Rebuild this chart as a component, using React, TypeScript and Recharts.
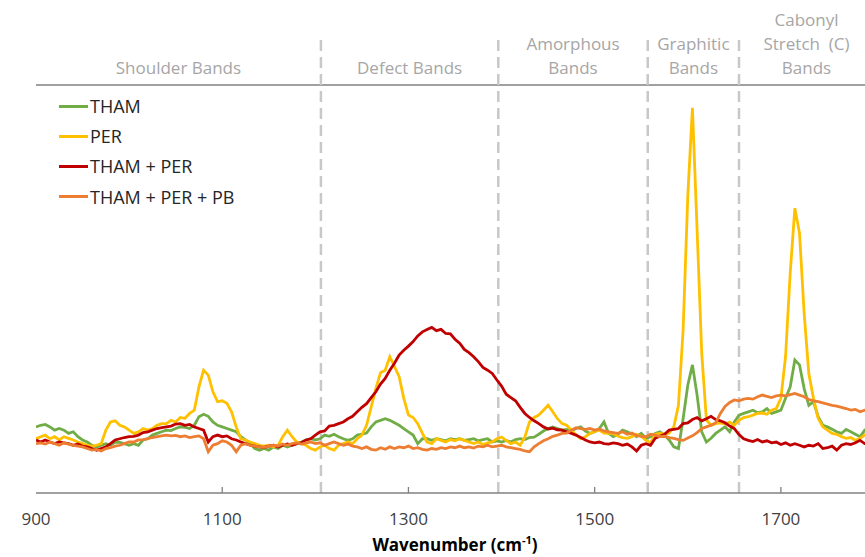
import React from 'react';
import { LineChart, Line, XAxis, YAxis, ReferenceLine, ReferenceArea, Legend } from 'recharts';

const FONT = '"Open Sans", "Noto Sans", sans-serif';

// Wavenumber grid (cm-1): 900 .. 1800 every 5
const WAVENUMBER_START = 900;
const WAVENUMBER_STEP = 5;

const THAM = [
  16.2, 16.6, 16.8, 16.2, 15.4, 15.8, 15.4, 14.6, 15.0, 13.8,
  13.0, 12.5, 11.7, 11.3, 11.7, 12.1, 11.7, 12.5, 12.4, 12.1,
  11.7, 12.1, 11.7, 13.0, 13.3, 14.2, 14.6, 15.0, 15.4, 15.3,
  15.8, 16.2, 16.1, 15.8, 16.6, 18.7, 19.3, 18.8, 17.4, 16.6,
  16.2, 15.8, 15.4, 15.0, 13.8, 13.0, 12.1, 10.9, 10.5, 10.9,
  10.5, 11.3, 10.9, 11.7, 11.3, 11.7, 12.1, 12.5, 13.0, 13.3,
  13.0, 13.3, 14.2, 13.9, 14.4, 13.8, 13.3, 12.9, 13.3, 14.2,
  14.4, 14.7, 16.2, 17.4, 17.8, 18.2, 17.8, 17.2, 16.6, 15.8,
  15.0, 14.2, 12.1, 13.3, 13.3, 12.9, 13.3, 13.1, 12.8, 13.3,
  13.1, 13.3, 12.9, 13.1, 13.3, 12.8, 13.1, 13.3, 12.5, 12.8,
  12.5, 12.9, 12.5, 13.1, 13.3, 13.1, 13.6, 13.7, 14.4, 15.2,
  15.8, 16.2, 15.8, 15.4, 15.6, 15.2, 15.8, 16.2, 15.2, 14.6,
  15.0, 15.8, 17.4, 14.6, 13.8, 14.4, 15.4, 15.0, 14.4, 13.8,
  14.6, 13.4, 13.8, 14.6, 15.0, 14.2, 13.0, 11.3, 10.9, 18.2,
  26.4, 31.4, 24.0, 15.0, 12.5, 13.4, 14.6, 15.4, 16.2, 15.0,
  17.4, 19.1, 19.5, 19.9, 20.3, 19.7, 19.9, 20.7, 19.5, 19.9,
  20.3, 23.2, 26.0, 32.6, 31.4, 25.6, 21.5, 22.4, 18.7, 16.6,
  16.2, 15.6, 15.0, 14.6, 15.6, 15.0, 14.4, 13.8, 15.4, 15.0,
  14.8,
];

const PER = [
  13.3, 13.8, 14.2, 13.3, 13.8, 13.0, 13.8, 13.4, 13.0, 12.5,
  12.1, 11.7, 11.5, 11.7, 12.1, 15.4, 17.4, 17.7, 16.6, 16.2,
  15.4, 14.6, 15.0, 15.8, 15.4, 15.8, 16.6, 17.0, 17.0, 17.8,
  17.4, 18.5, 18.3, 19.5, 20.3, 26.0, 30.1, 28.9, 24.8, 22.4,
  22.6, 22.0, 19.9, 16.2, 13.3, 13.0, 12.5, 12.1, 11.7, 11.5,
  11.7, 11.3, 11.7, 13.8, 15.4, 13.8, 12.5, 12.1, 11.7, 10.9,
  10.5, 11.3, 11.7, 10.9, 10.5, 11.7, 12.1, 12.5, 12.1, 13.3,
  14.2, 16.6, 21.1, 25.6, 29.5, 30.1, 33.4, 31.0, 28.5, 23.2,
  19.1, 18.5, 17.0, 14.6, 12.5, 12.1, 13.3, 12.9, 12.5, 13.1,
  12.8, 13.3, 12.9, 12.5, 12.1, 12.5, 11.9, 12.3, 12.5, 13.3,
  13.7, 12.9, 12.1, 12.5, 11.7, 13.7, 17.4, 18.5, 19.1, 20.3,
  21.5, 19.9, 18.2, 17.0, 16.6, 15.4, 14.2, 13.3, 13.8, 14.6,
  15.0, 15.4, 14.7, 14.6, 14.6, 13.9, 13.6, 13.4, 13.8, 14.4,
  13.9, 12.9, 12.3, 14.4, 14.6, 14.4, 14.7, 16.2, 21.5, 40.0,
  72.7, 94.4, 64.5, 34.2, 17.9, 16.6, 17.0, 17.2, 16.9, 17.4,
  16.6, 17.8, 18.5, 18.7, 19.1, 19.5, 19.6, 19.3, 20.3, 20.7,
  23.2, 33.4, 53.9, 69.8, 63.7, 44.0, 29.3, 23.2, 18.3, 16.2,
  15.4, 14.6, 14.4, 13.8, 13.4, 13.6, 12.9, 13.4, 14.2, 14.0,
  13.8,
];

const THAM_PER = [
  13.0, 12.5, 13.0, 12.5, 12.1, 12.5, 12.3, 12.1, 11.7, 12.0,
  11.5, 11.3, 10.9, 10.5, 10.9, 11.3, 12.1, 13.0, 13.3, 13.6,
  13.8, 13.9, 14.2, 14.8, 15.0, 15.4, 15.8, 16.0, 16.2, 16.4,
  16.9, 17.0, 16.6, 16.8, 16.2, 15.8, 15.4, 12.5, 13.8, 14.2,
  13.8, 14.0, 13.3, 13.0, 12.5, 12.1, 11.7, 11.5, 11.3, 11.2,
  11.5, 11.7, 11.3, 11.7, 12.0, 11.7, 12.1, 12.3, 13.0, 13.3,
  14.2, 15.0, 15.2, 16.4, 16.6, 17.0, 17.4, 18.2, 18.8, 19.9,
  21.0, 21.9, 23.4, 24.8, 26.7, 28.1, 30.1, 31.8, 33.8, 35.0,
  36.0, 37.1, 38.5, 39.5, 40.1, 40.6, 39.8, 40.1, 39.1, 39.0,
  37.7, 36.7, 35.2, 34.4, 33.4, 32.2, 30.8, 30.1, 29.3, 27.7,
  26.2, 24.2, 23.4, 22.6, 21.0, 19.5, 18.5, 17.7, 17.0, 16.2,
  15.7, 15.9, 15.5, 15.4, 15.0, 14.6, 14.2, 13.6, 13.0, 12.5,
  12.3, 12.5, 12.1, 12.0, 12.3, 12.1, 11.7, 12.0, 11.3, 10.3,
  11.7, 12.1, 11.7, 13.4, 13.9, 14.4, 15.4, 15.6, 15.8, 17.0,
  17.2, 18.0, 18.5, 17.7, 18.2, 18.8, 18.0, 17.7, 17.2, 16.4,
  15.8, 14.3, 13.3, 12.9, 12.6, 13.1, 12.5, 12.8, 12.3, 12.5,
  11.9, 12.3, 11.7, 12.1, 11.7, 11.3, 11.7, 11.5, 12.1, 10.9,
  11.1, 11.5, 10.5, 11.7, 12.1, 11.9, 12.3, 12.9, 12.1, 12.3,
  12.3,
];

const THAM_PER_PB = [
  12.1, 12.3, 12.0, 12.5, 12.1, 11.7, 12.3, 12.0, 11.7, 11.5,
  11.3, 10.9, 10.5, 10.7, 10.3, 10.9, 11.1, 11.5, 11.7, 12.1,
  12.5, 12.5, 13.0, 13.1, 13.3, 13.6, 13.8, 14.0, 14.2, 14.0,
  14.1, 13.8, 14.0, 13.6, 13.8, 14.0, 13.3, 10.1, 11.7, 12.1,
  12.8, 12.5, 11.7, 10.1, 11.7, 12.1, 11.7, 11.5, 11.3, 11.2,
  11.5, 11.7, 11.5, 12.0, 11.7, 12.1, 12.3, 12.0, 12.3, 12.5,
  12.1, 12.3, 11.7, 12.1, 12.5, 12.1, 11.7, 12.0, 11.5, 11.3,
  10.9, 11.3, 10.7, 10.5, 11.1, 10.7, 11.3, 10.9, 11.3, 11.1,
  11.5, 10.9, 11.1, 10.7, 10.5, 10.9, 10.7, 11.1, 10.9, 11.3,
  11.1, 11.5, 11.1, 11.3, 11.0, 11.5, 11.3, 11.7, 11.3, 11.5,
  11.7, 11.3, 11.1, 10.9, 10.7, 10.3, 10.1, 11.3, 12.1, 12.8,
  13.3, 13.9, 14.2, 14.6, 14.7, 15.4, 16.0, 15.8, 15.6, 15.8,
  15.4, 15.7, 15.2, 15.0, 14.8, 14.6, 15.0, 14.4, 14.7, 14.1,
  13.9, 13.8, 14.4, 14.2, 13.8, 13.9, 13.6, 13.4, 13.1, 12.9,
  13.5, 14.0, 14.8, 15.8, 16.2, 16.6, 17.2, 19.5, 21.2, 22.2,
  22.8, 22.6, 23.0, 23.2, 23.0, 23.6, 24.0, 23.7, 23.4, 23.8,
  24.0, 23.8, 24.1, 24.4, 24.0, 23.6, 22.9, 22.6, 22.4, 22.1,
  21.8, 21.5, 21.3, 21.0, 20.7, 20.3, 20.5, 19.9, 20.3, 20.1,
  20.0,
];

const X_TICKS = [900, 1100, 1300, 1500, 1700];
const BAND_BOUNDARIES = [1206, 1396.5, 1557, 1655];
const BAND_LABELS = [
  { from: 900, to: 1206, lines: ['Shoulder Bands'] },
  { from: 1206, to: 1396.5, lines: ['Defect Bands'] },
  { from: 1396.5, to: 1557, lines: ['Amorphous', 'Bands'] },
  { from: 1557, to: 1655, lines: ['Graphitic', 'Bands'] },
  { from: 1655, to: 1800, lines: ['Cabonyl', 'Stretch  (C)', 'Bands'] },
];

const SERIES = [
  { key: 'tham', name: 'THAM', color: '#70ad47' },
  { key: 'per', name: 'PER', color: '#ffc000' },
  { key: 'thamPer', name: 'THAM + PER', color: '#c00000' },
  { key: 'thamPerPb', name: 'THAM + PER + PB', color: '#ed7d31' },
];

const ROWS = THAM.map((v, i) => ({
  wavenumber: WAVENUMBER_START + i * WAVENUMBER_STEP,
  tham: v,
  per: PER[i],
  thamPer: THAM_PER[i],
  thamPerPb: THAM_PER_PB[i],
}));

const AXIS_COLOR = '#808080';

const renderXTick = (props: any) => {
  const { x, y, payload } = props;
  return (
    <g>
      {payload.value !== 900 && (
        <line x1={x} x2={x} y1={y} y2={y - 6} stroke={AXIS_COLOR} strokeWidth={1.3} />
      )}
      <text x={x} y={y + 32} textAnchor="middle" fontSize={17} fill="#404040" fontFamily={FONT}>
        {payload.value}
      </text>
    </g>
  );
};

const renderXTitle = (props: any) => {
  const vb = props.viewBox || { x: 36, y: 493, width: 838, height: 64 };
  const cx = vb.x + vb.width / 2;
  return (
    <text x={cx} y={vb.y + 58} textAnchor="middle" fontSize={17} fontWeight="bold" fill="#000" fontFamily={FONT}>
      <tspan>Wavenumber (cm</tspan>
      <tspan fontSize={11} dy={-7}>-1</tspan>
      <tspan dy={7}>)</tspan>
    </text>
  );
};

const renderYTitle = (props: any) => {
  const vb = props.viewBox || { x: 36, y: 85, width: 0, height: 408 };
  const cy = vb.y + vb.height / 2;
  return (
    <text
      transform={`translate(26, ${cy}) rotate(-90)`}
      x={0}
      y={0}
      textAnchor="middle"
      fontSize={17}
      fontWeight="bold"
      fill="#000"
      fontFamily={FONT}
    >
      Intensity (a.u.)
    </text>
  );
};

const makeBandLabel = (lines: string[]) => (props: any) => {
  const vb = props.viewBox;
  if (!vb) return null;
  const cx = vb.x + vb.width / 2;
  const n = lines.length;
  return (
    <text textAnchor="middle" fontSize={17} fill="#a6a6a6" fontFamily={FONT} style={{ whiteSpace: 'pre' }}>
      {lines.map((l, i) => (
        <tspan key={i} x={cx} y={74 - (n - 1 - i) * 24}>
          {l}
        </tspan>
      ))}
    </text>
  );
};

const renderLegend = () => (
  <div style={{ fontFamily: FONT, fontSize: 18, color: '#262626' }}>
    {SERIES.map((s) => (
      <div key={s.key} style={{ display: 'flex', alignItems: 'center', height: 30.2, whiteSpace: 'nowrap' }}>
        <span style={{ display: 'inline-block', width: 29, height: 3, background: s.color, marginRight: 2 }} />
        <span>{s.name}</span>
      </div>
    ))}
  </div>
);

export default function App() {
  return (
    <div
      style={{
        position: 'absolute',
        left: 0,
        top: 0,
        width: 865,
        height: 557,
        overflow: 'hidden',
        background: '#ffffff',
      }}
    >
      <LineChart width={874} height={557} data={ROWS} margin={{ top: 85, right: 0, bottom: 0, left: 36 }}>
        <XAxis
          dataKey="wavenumber"
          type="number"
          domain={[900, 1800]}
          ticks={X_TICKS}
          interval={0}
          height={64}
          tickSize={0}
          tickMargin={0}
          tickLine={false}
          axisLine={{ stroke: AXIS_COLOR, strokeWidth: 1.5 }}
          tick={renderXTick}
          allowDataOverflow
          label={renderXTitle}
        />
        <YAxis
          type="number"
          domain={[0, 100]}
          width={0}
          tick={false}
          tickLine={false}
          axisLine={{ stroke: AXIS_COLOR, strokeWidth: 1.5 }}
          allowDataOverflow
          label={renderYTitle}
        />
        <ReferenceLine y={100} stroke={AXIS_COLOR} strokeWidth={1.5} ifOverflow="visible" />
        {BAND_BOUNDARIES.map((b) => (
          <ReferenceLine
            key={b}
            segment={[
              { x: b, y: 0 },
              { x: b, y: 112 },
            ]}
            stroke="#c8c8c8"
            strokeWidth={2.5}
            strokeDasharray="11 6"
            ifOverflow="visible"
          />
        ))}
        {BAND_LABELS.map((band) => (
          <ReferenceArea
            key={band.from}
            x1={band.from}
            x2={band.to}
            y1={100}
            y2={112}
            ifOverflow="visible"
            fill="none"
            fillOpacity={0}
            stroke="none"
            label={makeBandLabel(band.lines)}
          />
        ))}
        {SERIES.map((s) => (
          <Line
            key={s.key}
            type="linear"
            dataKey={s.key}
            name={s.name}
            stroke={s.color}
            strokeWidth={2.8}
            dot={false}
            activeDot={false}
            isAnimationActive={false}
          />
        ))}
        <Legend
          content={renderLegend}
          layout="horizontal"
          verticalAlign="middle"
          align="center"
          wrapperStyle={{ left: 59, top: 91, width: 220, height: 122 }}
        />
      </LineChart>
    </div>
  );
}
